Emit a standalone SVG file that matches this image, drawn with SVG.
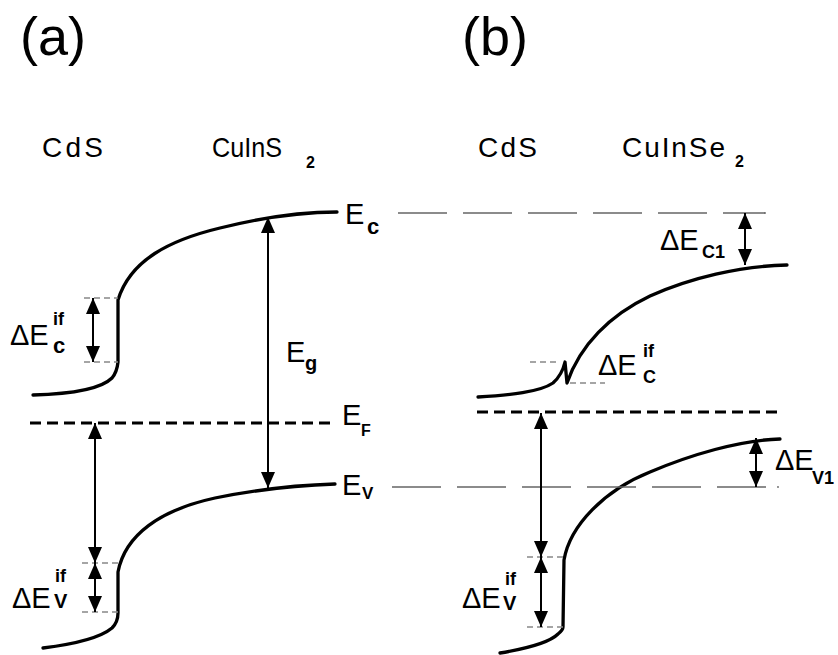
<svg xmlns="http://www.w3.org/2000/svg" width="838" height="655" viewBox="0 0 838 655">
<style>
  text { font-family: "Liberation Sans", Arial, sans-serif; fill: #000; }
  .big { font-size: 54px; }
  .mat { font-size: 28px; }
  .lbl { font-size: 29px; }
  .sub { font-size: 18px; font-weight: bold; }
  .band { fill: none; stroke: #000; stroke-width: 3.3; stroke-linecap: round; stroke-linejoin: round; }
  .fermi { fill: none; stroke: #000; stroke-width: 3; stroke-dasharray: 11 6; }
  .ref { fill: none; stroke: #666; stroke-width: 1.4; stroke-dasharray: 49 16; }
  .tick { fill: none; stroke: #888; stroke-width: 1.4; stroke-dasharray: 6 4; }
  .arr { fill: none; stroke: #000; stroke-width: 2; marker-start: url(#ah); marker-end: url(#ah); }
</style>
<defs>
  <marker id="ah" markerUnits="userSpaceOnUse" markerWidth="16" markerHeight="14" refX="16" refY="7" orient="auto-start-reverse">
    <path d="M0,0 L16,7 L0,14 Z" fill="#000"/>
  </marker>
</defs>
<rect width="838" height="655" fill="#fff"/>

<g id="titles">
  <text class="big" x="20" y="55">(a)</text>
  <text class="big" x="462" y="55">(b)</text>
  <text class="mat" x="42" y="157" textLength="61" lengthAdjust="spacing">CdS</text>
  <text class="mat" x="212" y="157" textLength="70" lengthAdjust="spacingAndGlyphs">CuInS</text>
  <text class="sub" x="306" y="168" style="font-size:16px">2</text>
  <text class="mat" x="478" y="157" textLength="59" lengthAdjust="spacing">CdS</text>
  <text class="mat" x="622" y="157" textLength="103" lengthAdjust="spacing">CuInSe</text>
  <text class="sub" x="735" y="167" style="font-size:16px">2</text>
</g>

<g id="panel-a-Ec">
  <path class="band" d="M33,395 C70,394 100,390 112,378 Q117,372 118,362 L118,300 C130,260 170,240 220,228 C260,218 300,212 337,212"/>
  <text class="lbl" x="345" y="224">E</text>
  <text class="sub" x="367" y="234" style="font-size:22px">c</text>
</g>
<g id="panel-a-EF">
  <path class="fermi" d="M30,423 L336,423"/>
  <text class="lbl" x="342" y="425">E</text>
  <text class="sub" x="361" y="436" style="font-size:16px">F</text>
</g>
<g id="panel-a-Ev">
  <path class="band" d="M43,648 C75,644 100,638 112,628 Q118,622 118,613 L118,572 C125,535 160,510 215,498 C255,490 300,485 335,484"/>
  <text class="lbl" x="342" y="495">E</text>
  <text class="sub" x="362" y="499" style="font-size:17px">V</text>
</g>
<g id="panel-a-labels">
  <text class="lbl" x="10" y="345">ΔE</text>
  <text class="sub" x="53" y="325">if</text>
  <text class="sub" x="53" y="353" style="font-size:22px">c</text>
  <text class="lbl" x="286" y="362">E</text>
  <text class="sub" x="305" y="370" style="font-size:20px">g</text>
  <text class="lbl" x="12" y="608">ΔE</text>
  <text class="sub" x="55" y="582">if</text>
  <text class="sub" x="54" y="608" style="font-size:20px">V</text>
</g>

<g id="panel-b-Ec">
  <path class="band" d="M478,397 C510,395 540,392 553,383 Q562,375 565,362 L567,383 C580,345 610,315 650,296 C690,278 740,266 787,265"/>
</g>
<g id="panel-b-EF">
  <path class="fermi" d="M477,412 L780,412"/>
</g>
<g id="panel-b-Ev">
  <path class="band" d="M500,653 C530,648 550,642 558,634 Q563,630 563,627 L564,560 C570,525 605,490 650,472 C690,455 740,440 780,439"/>
</g>
<g id="panel-b-labels">
  <text class="lbl" x="660" y="250">ΔE</text>
  <text class="sub" x="702" y="258">C1</text>
  <text class="lbl" x="598" y="375">ΔE</text>
  <text class="sub" x="643" y="357">if</text>
  <text class="sub" x="643" y="383">C</text>
  <text class="lbl" x="775" y="470">ΔE</text>
  <text class="sub" x="812" y="484">V1</text>
  <text class="lbl" x="462" y="608">ΔE</text>
  <text class="sub" x="505" y="585">if</text>
  <text class="sub" x="503" y="610" style="font-size:20px">V</text>
</g>

<g id="reference-lines">
  <path class="ref" d="M398,213 L765,213"/>
  <circle cx="765" cy="213" r="0.9" fill="#666"/>
  <path class="ref" d="M392,487 L770,487"/>
  <circle cx="778" cy="487" r="0.9" fill="#666"/>
  <path class="tick" d="M84,298 L118,298 M84,362 L118,362"/>
  <path class="tick" d="M82,563 L118,563 M82,612 L118,612"/>
  <path class="tick" d="M530,362 L557,362 M570,383 L605,383"/>
  <path class="tick" d="M527,557 L563,557 M527,627 L563,627"/>
</g>

<g id="connectors">
  <path class="arr" d="M93,298 L93,362"/>
  <path class="arr" d="M268,217 L268,488"/>
  <path class="arr" d="M95,423 L95,563"/>
  <path class="arr" d="M95,563 L95,612"/>
  <path class="arr" d="M745,213 L745,265"/>
  <path class="arr" d="M756,438 L756,487"/>
  <path class="arr" d="M541,413 L541,557"/>
  <path class="arr" d="M541,557 L541,627"/>
</g>
</svg>
